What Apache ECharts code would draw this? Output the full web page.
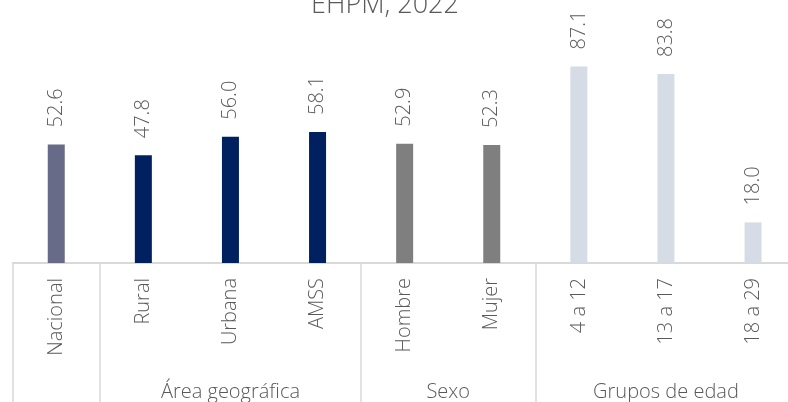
<!DOCTYPE html>
<html>
<head>
<meta charset="utf-8">
<script src="https://cdn.jsdelivr.net/npm/echarts@6/dist/echarts.min.js"></script>
<style>
  html, body { margin: 0; padding: 0; background: #fff; }
  #chart { width: 788px; height: 402px; }
</style>
</head>
<body>
<div id="chart"></div>
<script>
// categorías y valores
const categorias = ['Nacional', 'Rural', 'Urbana', 'AMSS', 'Hombre', 'Mujer', '4 a 12', '13 a 17', '18 a 29'];
const valores = [52.6, 47.8, 56.0, 58.1, 52.9, 52.3, 87.1, 83.8, 18.0];
const colores = ['#686b87', '#002060', '#002060', '#002060', '#7f7f7f', '#7f7f7f', '#d6dce5', '#d6dce5', '#d6dce5'];
// grupos: nombre, primer índice, último índice
const grupos = [
  { nombre: 'Área geográfica', desde: 1, hasta: 3 },
  { nombre: 'Sexo', desde: 4, hasta: 5 },
  { nombre: 'Grupos de edad', desde: 6, hasta: 8 }
];
const separadores = [0, 1, 4, 6];

const fuente = '"Open Sans", sans-serif';
const gris = '#595959';

let myChart = echarts.init(document.getElementById('chart'));
let option = {
  animation: false,
  title: {
    text: 'EHPM, 2022',
    left: 380,
    top: -13,
    textAlign: 'center',
    textStyle: { fontFamily: fuente, fontWeight: 300, fontSize: 27, color: gris }
  },
  grid: { left: 12.7, right: -8.6, top: 37.5, bottom: 139, containLabel: false, outerBoundsMode: 'none' },
  xAxis: {
    type: 'category',
    data: categorias,
    axisLine: { lineStyle: { color: '#d9d9d9', width: 2 } },
    axisTick: {
      show: true,
      length: 140,
      interval: function (i) { return separadores.indexOf(i) >= 0; },
      lineStyle: { color: '#d9d9d9', width: 1.5 }
    },
    axisLabel: {
      rotate: 90,
      margin: 15,
      interval: 0,
      fontFamily: fuente,
      fontWeight: 300,
      fontSize: 20,
      color: gris
    }
  },
  yAxis: {
    type: 'value',
    min: 0,
    max: 100,
    show: false,
    splitLine: { show: false }
  },
  series: [{
    type: 'bar',
    barWidth: 17,
    data: valores.map(function (v, i) {
      return { value: v, itemStyle: { color: colores[i] } };
    }),
    label: {
      show: true,
      position: 'top',
      rotate: 90,
      align: 'left',
      verticalAlign: 'middle',
      distance: 17,
      formatter: function (p) { return p.value.toFixed(1); },
      fontFamily: fuente,
      fontWeight: 300,
      fontSize: 20,
      color: gris
    }
  }]
};
myChart.setOption(option);

// etiquetas de grupo debajo de las categorías
let textos = grupos.map(function (g) {
  let x1 = myChart.convertToPixel({ xAxisIndex: 0 }, categorias[g.desde]);
  let x2 = myChart.convertToPixel({ xAxisIndex: 0 }, categorias[g.hasta]);
  return {
    type: 'text',
    x: (x1 + x2) / 2,
    y: 392,
    style: {
      text: g.nombre,
      align: 'center',
      verticalAlign: 'middle',
      fontFamily: fuente,
      fontWeight: 300,
      fontSize: 20,
      fill: gris
    }
  };
});
myChart.setOption({ graphic: textos });
</script>
</body>
</html>
